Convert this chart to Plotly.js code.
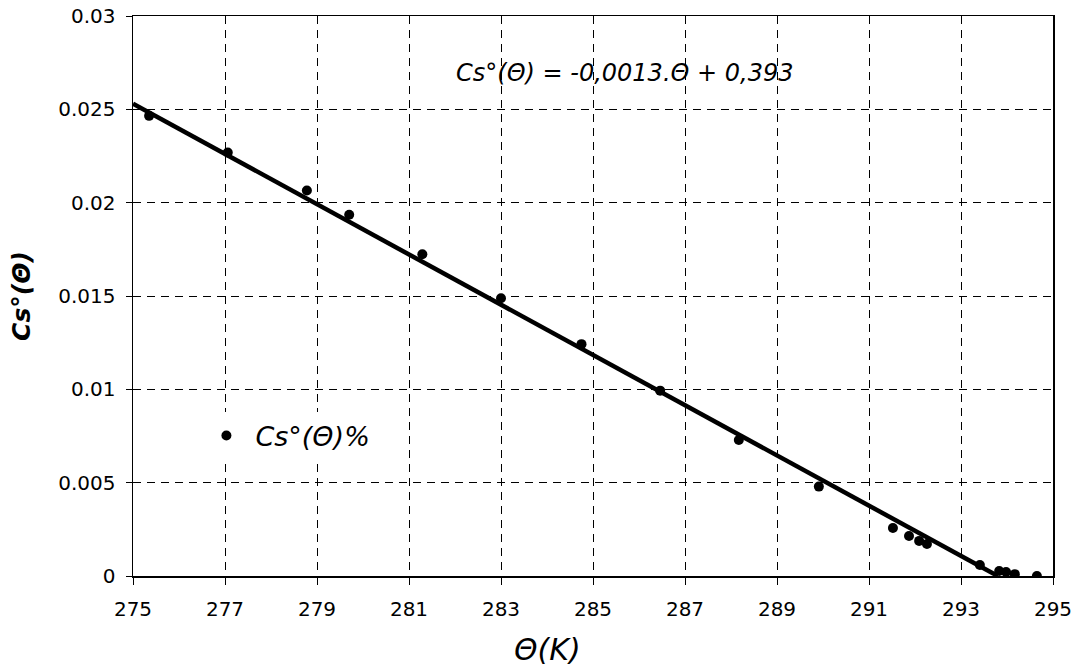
<!DOCTYPE html>
<html>
<head>
<meta charset="utf-8">
<script src="https://cdn.plot.ly/plotly-3.0.1.min.js"></script>
<style>html,body{margin:0;padding:0;background:#fff;}#chart{width:1082px;height:671px;}</style>
</head>
<body>
<div id="chart"></div>
<script>
// Measured points Cs°(Θ)% versus Θ (K)
const thetaK = [275.35, 277.06, 278.78, 279.70, 281.29, 283.00, 284.75, 286.46, 288.17, 289.91,
                291.52, 291.87, 292.09, 292.26, 293.41, 293.83, 293.98, 294.17, 294.65];
const csValues = [0.02465, 0.02269, 0.02065, 0.01935, 0.01724, 0.01488, 0.01242, 0.00993, 0.00729, 0.00479,
                  0.00257, 0.00214, 0.00188, 0.00171, 0.00059, 0.00027, 0.00021, 0.00010, 0.00000];
// Linear trend line end points
const trendX = [275, 293.8];
const trendY = [0.0253, 0];

const xTicks = [275, 277, 279, 281, 283, 285, 287, 289, 291, 293, 295];
const yTicks = [0, 0.005, 0.01, 0.015, 0.02, 0.025, 0.03];
const yTickText = ['0', '0.005', '0.01', '0.015', '0.02', '0.025', '0.03'];

const seriesName = 'Cs°(Θ)%';
const equationText = 'Cs°(Θ) = -0,0013.Θ + 0,393';
const xTitle = 'Θ(K)';
const yTitle = 'Cs°(Θ)';

const italicFont = {family: 'DejaVu Sans', style: 'italic', color: '#000'};

const traces = [
  {
    x: trendX, y: trendY, mode: 'lines', type: 'scatter',
    line: {color: '#000', width: 4.5}, showlegend: false, hoverinfo: 'skip'
  },
  {
    x: thetaK, y: csValues, mode: 'markers', type: 'scatter', name: seriesName,
    marker: {color: '#000', size: 10}
  }
];

const gridStyle = {showgrid: true, gridcolor: '#000', gridwidth: 1, griddash: '8px,6px'};

const layout = {
  width: 1082, height: 671,
  margin: {l: 133, r: 29, t: 16, b: 95},
  paper_bgcolor: '#fff', plot_bgcolor: '#fff',
  font: {family: 'DejaVu Sans', size: 20, color: '#000'},
  showlegend: true,
  legend: {
    x: 0.07, xanchor: 'left', y: 0.25, yanchor: 'middle',
    bgcolor: '#fff', borderwidth: 0,
    font: Object.assign({size: 27}, italicFont),
    itemwidth: 48
  },
  xaxis: Object.assign({
    range: [275, 295], tickvals: xTicks, ticktext: xTicks.map(String),
    showline: true, linecolor: '#000', linewidth: 1.5, mirror: true,
    ticks: 'outside', ticklen: 7, tickcolor: '#000', tickwidth: 1,
    zeroline: false, tickfont: {family: 'DejaVu Sans', size: 20, color: '#000'},
    ticklabelstandoff: 7
  }, gridStyle),
  yaxis: Object.assign({
    range: [0, 0.03], tickvals: yTicks, ticktext: yTickText,
    showline: true, linecolor: '#000', linewidth: 1.5, mirror: true,
    ticks: 'outside', ticklen: 6, tickcolor: '#000', tickwidth: 1,
    zeroline: false, tickfont: {family: 'DejaVu Sans', size: 20, color: '#000'},
    ticklabelstandoff: 6,
    title: {text: yTitle, standoff: 20, font: {family: 'DejaVu Sans', size: 25, weight: 'bold', style: 'italic', color: '#000'}},
    automargin: false
  }, gridStyle),
  annotations: [
    {
      xref: 'paper', yref: 'paper', x: 0.534, y: 0.898,
      xanchor: 'center', yanchor: 'middle', showarrow: false,
      text: equationText, font: Object.assign({size: 24}, italicFont)
    },
    {
      xref: 'paper', yref: 'paper', x: 0.451, y: -0.132,
      xanchor: 'center', yanchor: 'middle', showarrow: false,
      text: xTitle, font: Object.assign({size: 30}, italicFont)
    }
  ]
};

Plotly.newPlot('chart', traces, layout, {displayModeBar: false, staticPlot: true});
</script>
</body>
</html>
